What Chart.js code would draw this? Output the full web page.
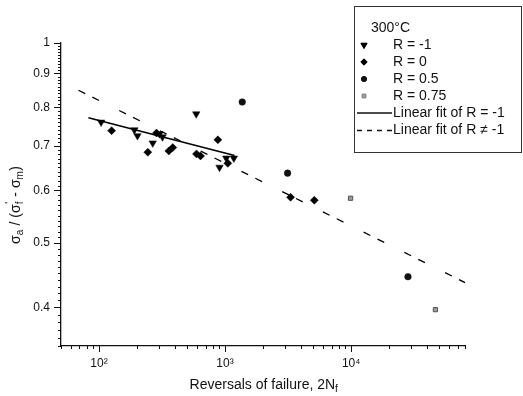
<!DOCTYPE html>
<html><head><meta charset="utf-8">
<script src="https://cdn.jsdelivr.net/npm/chart.js@4"></script>
<style>html,body{margin:0;padding:0;background:#fff}#wrap{width:523px;height:396px}</style>
</head><body><div id="wrap"><canvas id="c" width="523" height="396"></canvas></div>
<script>
// ---- data ----
const xMajorTicks = [100, 1000, 10000];
const xTickLabels = ['10²', '10³', '10⁴'];
const yMajorTicks = [0.4, 0.5, 0.6, 0.7, 0.8, 0.9, 1];
const yTickLabels = ['0.4', '0.5', '0.6', '0.7', '0.8', '0.9', '1'];

const rMinus1X = [104, 191, 202, 267, 302, 319, 591, 904, 1022, 1174];
const rMinus1Y = [0.760, 0.740, 0.725, 0.707, 0.730, 0.722, 0.782, 0.650, 0.671, 0.671];

const r0X = [126, 244, 286, 358, 385, 594, 639, 877, 1052, 3310, 5105];
const r0Y = [0.738, 0.685, 0.732, 0.688, 0.696, 0.681, 0.676, 0.715, 0.659, 0.586, 0.580];

const r05X = [1369, 3133, 28240];
const r05Y = [0.815, 0.637, 0.445];

const r075X = [9900, 46600];
const r075Y = [0.584, 0.397];

const fitMinus1X = [82.5, 1190];
const fitMinus1Y = [0.772, 0.677];
const fitOtherX = [68.8, 80000];
const fitOtherY = [0.849, 0.436];

const legendTitle = '300°C';
const legendLabels = ['R = -1', 'R = 0', 'R = 0.5', 'R = 0.75', 'Linear fit of R = -1', 'Linear fit of R \u2260 -1'];

const pts = (xs, ys) => xs.map((x, i) => ({x: x, y: ys[i]}));

Chart.defaults.font.family = "'Liberation Sans', Arial, sans-serif";
Chart.defaults.color = '#111';

const FONT = "'Liberation Sans', Arial, sans-serif";

function drawRich(ctx, parts, cx, cy, base) {
  // parts: {t, mode:'n'|'sub'|'sup'|'stack'}
  const bigF = base + 'px ' + FONT, smallF = Math.round(base * 0.72) + 'px ' + FONT;
  let w = 0;
  parts.forEach(p => {
    if (p.mode === 'n') { ctx.font = bigF; p.w = ctx.measureText(p.t).width; }
    else if (p.mode === 'stack') { ctx.font = smallF; p.w = Math.max(ctx.measureText(p.sup).width, ctx.measureText(p.sub).width) + 1; }
    else { ctx.font = smallF; p.w = ctx.measureText(p.t).width + 0.5; }
    w += p.w;
  });
  let x = cx - w / 2;
  ctx.textBaseline = 'middle';
  ctx.textAlign = 'left';
  parts.forEach(p => {
    if (p.mode === 'n') { ctx.font = bigF; ctx.fillText(p.t, x, cy); }
    else if (p.mode === 'sub') { ctx.font = smallF; ctx.fillText(p.t, x, cy + base * 0.32); }
    else if (p.mode === 'sup') { ctx.font = smallF; ctx.fillText(p.t, x, cy - base * 0.38); }
    else { ctx.font = smallF; ctx.fillText(p.sup, x + 0.5, cy - base * 0.38); ctx.fillText(p.sub, x, cy + base * 0.32); }
    x += p.w;
  });
}

const decor = {
  id: 'decor',
  afterDraw(chart) {
    const ctx = chart.ctx;
    const xs = chart.scales.x, ys = chart.scales.y;
    const area = chart.chartArea;
    ctx.save();
    ctx.strokeStyle = '#111';
    ctx.lineWidth = 1;
    // x tick marks (outward)
    ctx.beginPath();
    for (let e = 1; e <= 4; e++) {
      for (let m = 1; m <= 9; m++) {
        const v = m * Math.pow(10, e);
        if (v < xs.min - 1e-9 || v > xs.max + 1e-9) continue;
        const px = Math.round(xs.getPixelForValue(v)) + 0.5;
        const len = (m === 1) ? 6 : 3;
        ctx.moveTo(px, area.bottom);
        ctx.lineTo(px, area.bottom + len);
      }
    }
    // y tick marks (outward)
    for (let k = 35; k <= 100; k++) {
      const v = k / 100;
      const py = Math.round(ys.getPixelForValue(v)) + 0.5;
      const len = (k % 10 === 0) ? 7 : 3;
      ctx.moveTo(area.left, py);
      ctx.lineTo(area.left - len, py);
    }
    ctx.stroke();

    ctx.fillStyle = '#111';
    // x title
    drawRich(ctx, [{t: 'Reversals of failure, 2N', mode: 'n'}, {t: 'f', mode: 'sub'}], 264, 385, 14);
    // y title
    ctx.save();
    ctx.translate(16, 205);
    ctx.rotate(-Math.PI / 2);
    drawRich(ctx, [
      {t: 'σ', mode: 'n'}, {t: 'a', mode: 'sub'}, {t: ' / (', mode: 'n'},
      {t: 'σ', mode: 'n'}, {mode: 'stack', sup: "'", sub: 'f'},
      {t: ' - ', mode: 'n'}, {t: 'σ', mode: 'n'}, {t: 'm', mode: 'sub'}, {t: ')', mode: 'n'}
    ], 0, 0, 14);
    ctx.restore();

    // legend box
    ctx.strokeStyle = '#333';
    ctx.lineWidth = 1;
    ctx.strokeRect(354.5, 6.5, 167, 146);
    ctx.font = '14px ' + FONT;
    ctx.textBaseline = 'middle';
    ctx.textAlign = 'left';
    ctx.fillText(legendTitle, 371, 28);
    const rows = [45, 62, 79, 96, 113, 130.5];
    const ds = chart.data.datasets;
    for (let i = 0; i < 4; i++) {
      const d = ds[i];
      ctx.fillStyle = d.backgroundColor;
      ctx.strokeStyle = d.borderColor;
      ctx.lineWidth = 1;
      Chart.helpers.drawPoint(ctx, {pointStyle: d.pointStyle, rotation: d.pointRotation || 0, radius: d.legendRadius, borderWidth: 1}, 364, rows[i]);
      ctx.fill();
    }
    ctx.fillStyle = '#111';
    legendLabels.forEach((s, i) => ctx.fillText(s, 393, rows[i]));
    ctx.strokeStyle = '#111';
    ctx.lineWidth = 1.5;
    ctx.beginPath();
    ctx.moveTo(357, rows[4]); ctx.lineTo(392, rows[4]);
    ctx.stroke();
    ctx.setLineDash([5, 5]);
    ctx.beginPath();
    ctx.moveTo(357, rows[5]); ctx.lineTo(392, rows[5]);
    ctx.stroke();
    ctx.restore();
  }
};

new Chart(document.getElementById('c'), {
  type: 'scatter',
  data: {
    datasets: [
      {label: legendLabels[0], data: pts(rMinus1X, rMinus1Y), pointStyle: 'triangle', pointRotation: 180, pointRadius: 4.3, legendRadius: 3.6, backgroundColor: '#000', borderColor: '#000', borderWidth: 0.5, pointHoverRadius: 4.3},
      {label: legendLabels[1], data: pts(r0X, r0Y), pointStyle: 'rectRot', pointRadius: 4, legendRadius: 3.2, backgroundColor: '#000', borderColor: '#000', borderWidth: 0.5},
      {label: legendLabels[2], data: pts(r05X, r05Y), pointStyle: 'circle', pointRadius: 3.3, legendRadius: 2.6, backgroundColor: '#111', borderColor: '#111', borderWidth: 0.5},
      {label: legendLabels[3], data: pts(r075X, r075Y), pointStyle: 'rect', pointRadius: 3, legendRadius: 2.6, backgroundColor: '#9a9a9a', borderColor: '#555', borderWidth: 1},
      {label: legendLabels[4], data: pts(fitMinus1X, fitMinus1Y), showLine: true, pointRadius: 0, borderColor: '#000', borderWidth: 1.6, backgroundColor: '#000'},
      {label: legendLabels[5], data: pts(fitOtherX, fitOtherY), showLine: true, pointRadius: 0, borderColor: '#000', borderWidth: 1.3, borderDash: [7.5, 8, 7.5, 22.5], backgroundColor: '#000'}
    ]
  },
  options: {
    responsive: false,
    animation: false,
    devicePixelRatio: 1,
    layout: {padding: {top: 43, right: 58, left: 0, bottom: 0}},
    plugins: {legend: {display: false}, tooltip: {enabled: false}},
    scales: {
      x: {
        type: 'logarithmic', min: 50, max: 80000,
        afterFit: s => { s.height = 50; },
        afterBuildTicks: s => { s.ticks = xMajorTicks.map(v => ({value: v})); },
        grid: {display: false, drawTicks: false},
        border: {display: true, color: '#111', width: 1.3},
        ticks: {
          autoSkip: false, maxRotation: 0, padding: 10,
          font: {size: 12}, color: '#111',
          callback: v => { const i = xMajorTicks.indexOf(v); return i >= 0 ? xTickLabels[i] : ''; }
        }
      },
      y: {
        type: 'logarithmic', min: 0.35, max: 1,
        afterFit: s => { s.width = 61; },
        afterBuildTicks: s => { s.ticks = yMajorTicks.map(v => ({value: v})); },
        grid: {display: false, drawTicks: false},
        border: {display: true, color: '#111', width: 1.3},
        ticks: {
          autoSkip: false, padding: 11,
          font: {size: 12}, color: '#111',
          callback: v => { const i = yMajorTicks.findIndex(t => Math.abs(t - v) < 1e-9); return i >= 0 ? yTickLabels[i] : ''; }
        }
      }
    }
  },
  plugins: [decor]
});
</script>
</body></html>
